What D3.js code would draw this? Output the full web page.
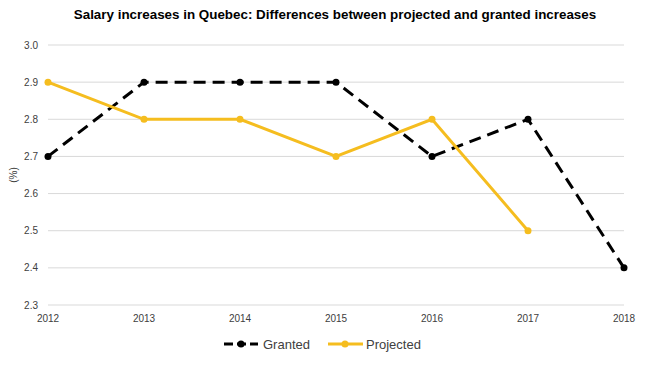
<!DOCTYPE html>
<html>
<head>
  <meta charset="utf-8">
  <style>
    body { margin: 0; background: #fff; font-family: "Liberation Sans", Arial, sans-serif; }
    .grid line { stroke: #d9d9d9; stroke-width: 1px; }
    .axis text { font-size: 10px; fill: #404040; }
  </style>
</head>
<body>
  <div id="chart"></div>
  <script src="https://d3js.org/d3.v7.min.js"></script>
  <script>
    const years = [2012, 2013, 2014, 2015, 2016, 2017, 2018];
    const granted = [2.7, 2.9, 2.9, 2.9, 2.7, 2.8, 2.4];
    const projected = [2.9, 2.8, 2.8, 2.7, 2.8, 2.5];
    const yTicks = [2.3, 2.4, 2.5, 2.6, 2.7, 2.8, 2.9, 3.0];

    const width = 659, height = 371;
    const yellow = "#f5bd1f";

    const svg = d3.select("#chart").append("svg")
                  .attr("width", width)
                  .attr("height", height);

    const x = d3.scaleLinear().domain([2012, 2018]).range([48, 624]);
    const y = d3.scaleLinear().domain([2.3, 3.0]).range([305, 45]);

    // title
    svg.append("text")
       .attr("x", 335).attr("y", 19)
       .attr("text-anchor", "middle")
       .style("font-family", "'Liberation Sans Narrow', 'Arial Narrow', sans-serif")
       .style("font-weight", "bold")
       .style("font-size", "13.4px")
       .attr("fill", "#000")
       .text("Salary increases in Quebec: Differences between projected and granted increases");

    // gridlines
    svg.append("g").attr("class", "grid")
       .selectAll("line").data(yTicks).join("line")
       .attr("x1", x(2012)).attr("x2", x(2018))
       .attr("y1", d => y(d)).attr("y2", d => y(d));

    // y tick labels
    svg.append("g").attr("class", "axis")
       .selectAll("text").data(yTicks).join("text")
       .attr("x", 38).attr("y", d => y(d))
       .attr("dy", "0.35em")
       .attr("text-anchor", "end")
       .text(d => d.toFixed(1));

    // x tick labels
    svg.append("g").attr("class", "axis")
       .selectAll("text").data(years).join("text")
       .attr("x", d => x(d)).attr("y", 322)
       .attr("text-anchor", "middle")
       .text(d => d);

    // y axis title
    svg.append("text")
       .attr("transform", `translate(17,${(y(2.65))}) rotate(-90)`)
       .attr("text-anchor", "middle")
       .style("font-size", "10px")
       .attr("fill", "#404040")
       .text("(%)");

    const line = d3.line().x(d => x(d[0])).y(d => y(d[1]));
    const gData = years.map((yr, i) => [yr, granted[i]]);
    const pData = projected.map((v, i) => [years[i], v]);

    // granted
    svg.append("path").datum(gData)
       .attr("d", line).attr("fill", "none")
       .attr("stroke", "#000").attr("stroke-width", 3)
       .attr("stroke-dasharray", "12,7");
    svg.append("g").selectAll("circle").data(gData).join("circle")
       .attr("cx", d => x(d[0])).attr("cy", d => y(d[1]))
       .attr("r", 3.5).attr("fill", "#000");

    // projected
    svg.append("path").datum(pData)
       .attr("d", line).attr("fill", "none")
       .attr("stroke", yellow).attr("stroke-width", 3);
    svg.append("g").selectAll("circle").data(pData).join("circle")
       .attr("cx", d => x(d[0])).attr("cy", d => y(d[1]))
       .attr("r", 3.5).attr("fill", yellow);

    // legend
    const leg = svg.append("g").attr("transform", "translate(0,344)");
    leg.append("line").attr("x1", 224).attr("x2", 258).attr("y1", 0).attr("y2", 0)
       .attr("stroke", "#000").attr("stroke-width", 3).attr("stroke-dasharray", "9,4");
    leg.append("circle").attr("cx", 241).attr("cy", 0).attr("r", 3.5).attr("fill", "#000");
    leg.append("text").attr("x", 263).attr("y", 0).attr("dy", "0.35em")
       .style("font-size", "13px").attr("fill", "#404040").text("Granted");

    leg.append("line").attr("x1", 328).attr("x2", 363).attr("y1", 0).attr("y2", 0)
       .attr("stroke", yellow).attr("stroke-width", 3);
    leg.append("circle").attr("cx", 345).attr("cy", 0).attr("r", 3.5).attr("fill", yellow);
    leg.append("text").attr("x", 366).attr("y", 0).attr("dy", "0.35em")
       .style("font-size", "13px").attr("fill", "#404040").text("Projected");
  </script>
</body>
</html>
